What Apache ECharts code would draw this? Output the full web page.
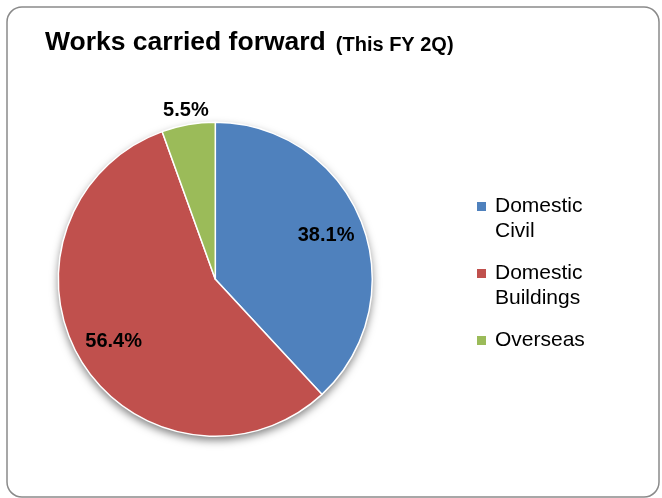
<!DOCTYPE html>
<html>
<head>
<meta charset="utf-8">
<title>Works carried forward</title>
<script src="https://cdn.jsdelivr.net/npm/echarts@6/dist/echarts.min.js"></script>
<style>
  html, body { margin: 0; padding: 0; background: #ffffff; }
  #chart { width: 662px; height: 498px; }
</style>
</head>
<body>
<div id="chart"></div>
<script>
// Share of works carried forward, this FY 2Q (percent)
const categories = ['Domestic Civil', 'Domestic Buildings', 'Overseas'];
const shares = [38.1, 56.4, 5.5];
const colors = ['#4F81BD', '#C0504D', '#9BBB59'];
// Which slices carry their value label inside vs. just outside the rim
const labelOutside = [false, false, true];

const FONT = '"Liberation Sans", Arial, sans-serif';
const CENTER = [215.3, 279.3];
const R = 157;

const total = shares.reduce((a, b) => a + b, 0);
const fmtPct = p => p.value.toFixed(1) + '%';
const labelText = { color: '#000', fontFamily: FONT, fontSize: 20, fontWeight: 'bold' };

const slices = categories.map((name, i) => ({
  name, value: shares[i], itemStyle: { color: colors[i] }
}));

// Transparent ring used only to place value labels along each slice's bisector
function labelRing(outside) {
  return categories.map((name, i) => ({
    name, value: shares[i],
    label: { show: labelOutside[i] === outside }
  }));
}

// Legend text: wrap after the first word; pad every entry to three lines
// so that the first text line sits level with the colour square.
function legendText(name) {
  const lines = name.split(' ');
  const head = lines.length > 1 ? lines[0] + '\n' + lines.slice(1).join(' ') : name + '\n';
  return '\n' + head;
}

const common = {
  type: 'pie', center: CENTER, startAngle: 90, clockwise: true,
  animation: false, avoidLabelOverlap: false,
  emphasis: { disabled: true }, labelLine: { show: false }
};

const chart = echarts.init(document.getElementById('chart'), null, { renderer: 'canvas' });
chart.setOption({
  animation: false,
  title: {
    text: '{a|Works carried forward} {b|(This FY 2Q)}',
    left: 45, top: 24, padding: 0,
    textStyle: {
      rich: {
        a: { fontFamily: FONT, fontSize: 26.5, fontWeight: 'bold', color: '#000', lineHeight: 32, verticalAlign: 'bottom' },
        b: { fontFamily: FONT, fontSize: 20, fontWeight: 'bold', color: '#000', lineHeight: 32, verticalAlign: 'bottom', padding: [0, 0, 1, 5] }
      }
    }
  },
  legend: {
    orient: 'vertical', left: 477, top: 169, padding: 0,
    itemWidth: 9, itemHeight: 9, itemGap: -8, icon: 'rect',
    selectedMode: false,
    itemStyle: { borderWidth: 0 },
    formatter: legendText,
    textStyle: { fontFamily: FONT, fontSize: 21, color: '#000', lineHeight: 25, padding: [0, 0, 0, 4] },
    data: categories
  },
  graphic: [{
    type: 'rect', silent: true,
    shape: { x: 7, y: 7, width: 652, height: 490, r: 15 },
    style: { fill: 'none', stroke: '#8a8a8a', lineWidth: 1.5 }
  }],
  series: [
    // soft drop shadow under the whole pie
    Object.assign({}, common, {
      name: 'shadow', radius: [0, R], silent: true, z: 1,
      label: { show: false },
      itemStyle: { color: '#ffffff', shadowBlur: 9, shadowOffsetY: 4, shadowColor: 'rgba(0,0,0,0.5)' },
      data: [{ name: 'all', value: total }]
    }),
    Object.assign({}, common, {
      name: 'Works carried forward', radius: [0, R], z: 2,
      label: { show: false },
      itemStyle: { borderColor: '#ffffff', borderWidth: 1.5 },
      data: slices
    }),
    Object.assign({}, common, {
      name: 'inner labels', radius: [75, R], silent: true, z: 3,
      itemStyle: { color: 'rgba(0,0,0,0)' },
      label: Object.assign({ position: 'inside', formatter: fmtPct }, labelText),
      data: labelRing(false)
    }),
    Object.assign({}, common, {
      name: 'outer labels', radius: [R, R + 22], silent: true, z: 3,
      itemStyle: { color: 'rgba(0,0,0,0)' },
      label: Object.assign({ position: 'inside', formatter: fmtPct }, labelText),
      data: labelRing(true)
    })
  ]
});
</script>
</body>
</html>
